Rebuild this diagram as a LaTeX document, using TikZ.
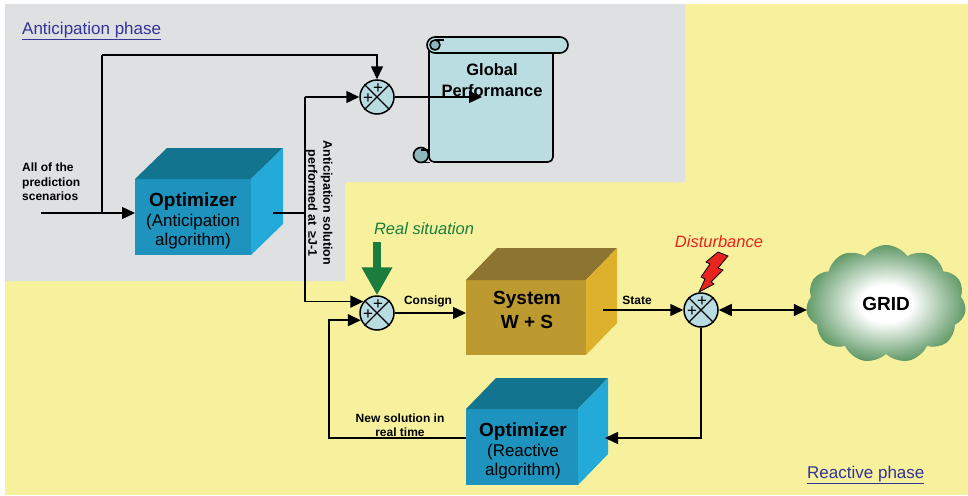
\documentclass[tikz,border=0pt]{standalone}
\usepackage{fontspec}
\setmainfont{Liberation Sans}
\usetikzlibrary{arrows.meta,shapes.symbols}

\definecolor{bgyellow}{HTML}{F7F19E}
\definecolor{bggrey}{HTML}{DFE0E2}
\definecolor{optfront}{HTML}{1D93BD}
\definecolor{opttop}{HTML}{137490}
\definecolor{optside}{HTML}{23AAD8}
\definecolor{sysfront}{HTML}{BC9A30}
\definecolor{systop}{HTML}{8D7430}
\definecolor{sysside}{HTML}{DDB12C}
\definecolor{sumfill}{HTML}{B8DCE2}
\definecolor{scrollfill}{HTML}{BADDE1}
\definecolor{scrollcurl}{HTML}{8DB7BA}
\definecolor{realgreen}{HTML}{1A7D3D}
\definecolor{distred}{HTML}{E8241E}
\definecolor{phaseblue}{HTML}{333399}
\definecolor{gridgreen}{HTML}{2A7630}
\definecolor{gridmid}{HTML}{8FB794}

\pgfdeclareradialshading{gridglow}{\pgfpoint{0bp}{0bp}}{%
  color(0bp)=(white); color(8bp)=(white); color(20bp)=(gridmid);
  color(31bp)=(gridgreen); color(50bp)=(gridgreen)}

% side and top faces of a box whose front face is node #1
\newcommand{\cubesides}[5]{%
  \fill[#4] (#1.north west) -- ++(#2,#3) -- ([shift={(#2,#3)}]#1.north east) -- (#1.north east) -- cycle;
  \fill[#5] (#1.north east) -- ++(#2,#3) -- ([shift={(#2,#3)}]#1.south east) -- (#1.south east) -- cycle;}

% summing junction: circle with a cross and two plus signs
\newcommand{\sumjunction}[2]{%
  \node[sumnode] (#1) at (#2) {};
  \draw[line width=1.3pt] (#1.north west) -- (#1.south east) (#1.north east) -- (#1.south west);
  \node[plusmark] at ([xshift=1pt,yshift=8.5pt]#1.center) {+};
  \node[plusmark] at ([xshift=-9pt,yshift=-2pt]#1.center) {+};}

\begin{document}
\begin{tikzpicture}[x=1pt,y=-1pt,
  line/.style={line width=1.5pt},
  arr/.style={line width=1.5pt, -{Triangle[length=13pt,width=12pt]}},
  arrboth/.style={line width=1.5pt, {Triangle[length=13pt,width=12pt]}-{Triangle[length=13pt,width=12pt]}},
  realarrow/.style={line width=7.5pt, draw=realgreen, -{Triangle[length=28pt,width=29pt,fill=realgreen]}},
  sumnode/.style={circle, draw, line width=1.5pt, fill=sumfill, minimum size=34pt, inner sep=0pt},
  plusmark/.style={inner sep=0pt, font=\fontsize{17}{17}\selectfont},
  cubefront/.style={rectangle, inner sep=0pt, outer sep=0pt},
  cubetext/.style={align=center, inner sep=0pt, font=\fontsize{17}{19.5}\selectfont},
  lbl/.style={inner sep=0pt, font=\fontsize{12}{14.5}\selectfont\bfseries},
  phase/.style={inner sep=0pt, anchor=west, text=phaseblue, font=\fontsize{17}{19}\selectfont},
  note/.style={inner sep=0pt, font=\fontsize{16.5}{19}\selectfont\itshape}
]
\useasboundingbox (0,0) rectangle (968,495);
\fill[white] (0,0) rectangle (968,495);
% phase areas
\fill[bgyellow] (5,4) rectangle (968,495);
\fill[bggrey] (5,4) -- (685,4) -- (685,182) -- (345,182) -- (345,281) -- (5,281) -- cycle;

\node[phase] (aphase) at (22,31) {\underline{Anticipation phase}};
\node[phase] (rphase) at (807,475) {\underline{Reactive phase}};

% global performance scroll
\begin{scope}[line width=1.6pt, line join=round]
  \filldraw[fill=scrollfill, rounded corners=5pt] (429,48) -- (429,162) -- (553,162) -- (553,48);
  \filldraw[fill=scrollfill, rounded corners=8pt] (427,37) rectangle (568,53);
  \filldraw[fill=scrollcurl] (435,45) circle[radius=5pt];
  \draw (435,40) -- (444,40);
  \filldraw[fill=scrollcurl] (421,155) circle[radius=7.5pt];
  \draw (421,162.5) -- (430,162.5);
  \draw (421,150) -- (429,150);
\end{scope}
\node[align=center, inner sep=0pt, font=\fontsize{16.5}{21}\selectfont\bfseries] (gperf) at (492,80) {Global\\Performance};

% anticipation optimizer
\node[cubefront, fill=optfront, minimum width=116pt, minimum height=76pt] (optA) at (193,217) {};
\cubesides{optA}{32}{-31}{opttop}{optside}
\node[cubetext] (optAtxt) at (193,221) {{\fontsize{19}{21}\selectfont\bfseries Optimizer}\\(Anticipation\\algorithm)};

% system
\node[cubefront, fill=sysfront, minimum width=120pt, minimum height=75pt] (sys) at (526,317.5) {};
\cubesides{sys}{31}{-32}{systop}{sysside}
\node[align=center, inner sep=0pt, font=\fontsize{19}{24}\selectfont\bfseries] (systxt) at (527,310) {System\\W + S};

% reactive optimizer
\node[cubefront, fill=optfront, minimum width=112pt, minimum height=76pt] (optR) at (522,447) {};
\cubesides{optR}{30}{-31}{opttop}{optside}
\node[cubetext] (optRtxt) at (523,451) {{\fontsize{19}{21}\selectfont\bfseries Optimizer}\\(Reactive\\algorithm)};

% grid
\node[cloud, cloud puffs=11, cloud puff arc=110, aspect=1.4, minimum width=160pt, minimum height=118pt,
      shade, shading=gridglow, inner sep=0pt, font=\fontsize{19}{19}\selectfont\bfseries] (grid) at (886,304) {GRID};

% summing junctions
\sumjunction{sumA}{377,97}
\sumjunction{sumB}{377,313}
\sumjunction{sumC}{701,310}

% anticipation loop
\coordinate (inA) at (41,213);
\coordinate (brA) at (102,213);
\coordinate (topA) at (102,55);
\coordinate (outA) at (273,213);
\coordinate (vtop) at (305,97);
\coordinate (vbot) at (vtop |- sumB.140);
\coordinate (gpTip) at (482,97);
\draw[arr] (inA) -- (optA.west |- inA);
\draw[line] (brA) -- (topA);
\draw[arr] (topA) -| (sumA.north);
\draw[line] (outA) -- (outA -| vtop);
\draw[line] (vtop) -- (vbot);
\draw[arr] (vtop) -- (sumA.west);
\draw[arr] (vbot) -- (sumB.140);
\draw[arr] (sumA.east) -- (gpTip);

\node[lbl, align=left, anchor=west] (scen) at (22,182) {All of the\\prediction\\scenarios};
\node[lbl, align=center, rotate=-90, font=\fontsize{12.5}{15}\selectfont\bfseries] (antsol) at (319,203)
  {Anticipation solution\\performed at \,≥J-1};

% reactive loop
\coordinate (realTop) at (377,242);
\draw[realarrow] (realTop) -- (sumB.north);
\node[note, text=realgreen] (realtxt) at (424,229) {Real situation};

\draw[arr] (sumB.east) -- (sys.west |- sumB.east);
\node[lbl] (consign) at (428,301) {Consign};

\coordinate (stateStart) at (603,310);
\draw[arr] (stateStart) -- (sumC.west);
\node[lbl] (state) at (637,300) {State};

\draw[arrboth] (sumC.east) -- (grid.west |- sumC.east);

\coordinate (fbEnd) at (605,438);
\coordinate (fbLeft) at (329,438);
\draw[arr] (sumC.south) |- (fbEnd);
\draw[arr] (optR.west |- fbLeft) -- (fbLeft) |- (sumB.204);
\node[lbl, align=center] (newsol) at (400,425) {New solution in\\real time};

% disturbance
\filldraw[fill=distred, line width=0.8pt, line join=miter]
  (718,252) -- (728,256) -- (718,268) -- (723,270) -- (711,282) -- (714,284) -- (699,292)
  -- (705,279) -- (701,277) -- (710,264) -- (706,262) -- cycle;
\node[note, text=distred] (disttxt) at (719,242) {Disturbance};
\end{tikzpicture}
\end{document}
